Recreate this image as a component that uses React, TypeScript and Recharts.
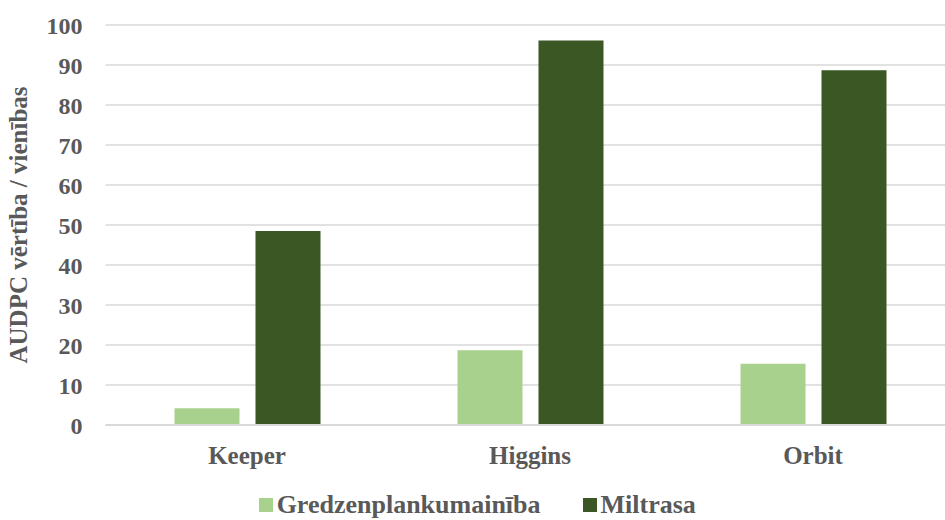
import React from 'react'
import { BarChart, Bar, XAxis, YAxis, CartesianGrid, Legend } from 'recharts'

// AUDPC vērtības pa šķirnēm
const varieties = ['Keeper', 'Higgins', 'Orbit']
const gredzenplankumainiba = [4.2, 18.7, 15.3]
const miltrasa = [48.5, 96.1, 88.7]
const yTicks = [0, 10, 20, 30, 40, 50, 60, 70, 80, 90, 100]

const FONT = '"Liberation Serif", "Times New Roman", serif'
const TEXT = '#595959'
const LIGHT = '#A9D18E'
const DARK = '#3A5724'
const GRID = '#D9D9D9'

const data = varieties.map((v, i) => ({
  name: v,
  gred: gredzenplankumainiba[i],
  milt: miltrasa[i],
}))

function LegendContent({ payload }: any) {
  return (
    <div style={{ display: 'flex', justifyContent: 'center', gap: 42, fontFamily: FONT, paddingTop: 3 }}>
      {(payload || []).map((p: any) => (
        <div key={p.value} style={{ display: 'flex', alignItems: 'center' }}>
          <span style={{ width: 14, height: 14, background: p.color, display: 'inline-block', marginRight: 4 }} />
          <span style={{ color: TEXT, fontSize: 26, fontWeight: 'bold', lineHeight: '30px' }}>{p.value}</span>
        </div>
      ))}
    </div>
  )
}

export default function App() {
  return (
    <div style={{ position: 'absolute', left: 0, top: 0, width: 945, height: 520, overflow: 'hidden', background: '#fff' }}>
      <BarChart
        width={960}
        height={520}
        data={data}
        margin={{ top: 25, right: 5.5, bottom: 0, left: 0 }}
        barCategoryGap={68.5}
        barGap={16}
      >
        <CartesianGrid vertical={false} stroke={GRID} strokeWidth={1.5} />
        <XAxis
          dataKey="name"
          height={62}
          axisLine={{ stroke: GRID, strokeWidth: 2 }}
          tickLine={false}
          tickMargin={15}
          tick={{ fill: TEXT, fontSize: 25, fontWeight: 'bold', fontFamily: FONT }}
        />
        <YAxis
          width={105.5}
          domain={[0, 100]}
          ticks={yTicks}
          interval={0}
          axisLine={false}
          tickLine={false}
          tickMargin={17}
          tick={{ fill: TEXT, fontSize: 24, fontWeight: 'bold', fontFamily: FONT }}
          label={{
            value: 'AUDPC vērtība / vienības',
            angle: -90,
            position: 'insideLeft',
            offset: 18,
            style: { fill: TEXT, fontSize: 25, fontWeight: 'bold', fontFamily: FONT, textAnchor: 'middle' },
          }}
        />
        <Legend verticalAlign="bottom" height={33} content={<LegendContent />} />
        <Bar dataKey="gred" name="Gredzenplankumainība" fill={LIGHT} barSize={65} isAnimationActive={false} />
        <Bar dataKey="milt" name="Miltrasa" fill={DARK} barSize={65} isAnimationActive={false} />
      </BarChart>
    </div>
  )
}
